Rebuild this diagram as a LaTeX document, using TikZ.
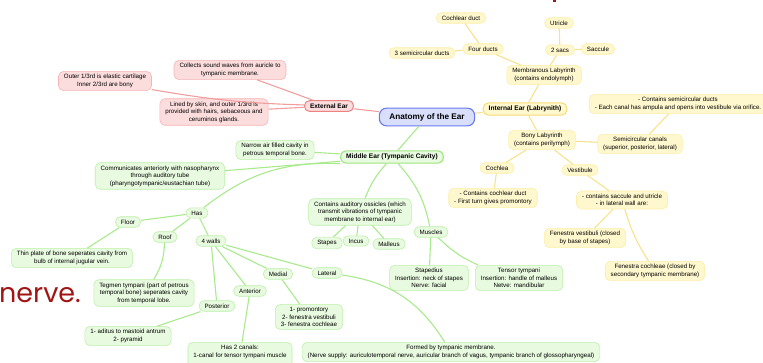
\documentclass[tikz,border=0pt]{standalone}
\usepackage{fontspec}
\setmainfont{Liberation Sans}
\newfontfamily\slidefont{Poppins}
\definecolor{extfill}{HTML}{FCDDDD}
\definecolor{extdraw}{HTML}{F5B5B5}
\definecolor{extmaindraw}{HTML}{EC8282}
\definecolor{extedge}{HTML}{F29E9E}
\definecolor{midfill}{HTML}{E8FADF}
\definecolor{middraw}{HTML}{BDF0AA}
\definecolor{midmaindraw}{HTML}{9EE67E}
\definecolor{midedge}{HTML}{A8EA8C}
\definecolor{intfill}{HTML}{FFF8CE}
\definecolor{intdraw}{HTML}{FBEEA6}
\definecolor{intmaindraw}{HTML}{F4DC74}
\definecolor{intedge}{HTML}{F8E38C}
\definecolor{hubfill}{HTML}{D9DEFA}
\definecolor{hubdraw}{HTML}{6B7BEE}
\definecolor{nervered}{HTML}{A01515}
\begin{document}
\begin{tikzpicture}[x=1pt,y=-1pt,
    every node/.style={font=\fontsize{6.2}{7.4}\selectfont,align=center},
    box/.style={rounded corners=5pt,inner xsep=5.5pt,inner ysep=3pt,line width=0.6pt},
    extbox/.style={box,draw=extdraw,fill=extfill},
    midbox/.style={box,draw=middraw,fill=midfill},
    intbox/.style={box,draw=intdraw,fill=intfill},
    extmain/.style={box,draw=extmaindraw,fill=extfill,line width=1pt,
        font=\fontsize{6.5}{7.5}\selectfont\bfseries},
    midmain/.style={box,draw=midmaindraw,fill=midfill,line width=1.1pt,
        font=\fontsize{6.6}{7.5}\selectfont\bfseries},
    intmain/.style={box,draw=intmaindraw,fill=intfill,line width=1pt,
        font=\fontsize{6.6}{7.5}\selectfont\bfseries},
    hub/.style={box,draw=hubdraw,fill=hubfill,line width=1.1pt,rounded corners=7pt,
        inner xsep=10pt,inner ysep=5pt,font=\fontsize{8.2}{9}\selectfont\bfseries},
    extline/.style={draw=extedge,line width=1.1pt},
    midline/.style={draw=midedge,line width=1.1pt},
    intline/.style={draw=intedge,line width=1.1pt}]

    \useasboundingbox (0,0) rectangle (763,362);

    % the texts

    \node[hub] (ear) at (427,117) {Anatomy of the Ear};

    \node[extmain] (ext) at (329,106) {External Ear};
    \node[extbox] (collects) at (230,70) {Collects sound waves from auricle to\\tympanic membrane.};
    \node[extbox] (outer) at (105,81) {Outer 1/3rd is elastic cartilage\\Inner 2/3rd are bony};
    \node[extbox] (lined) at (214,112) {Lined by skin, and outer 1/3rd is\\provided with hairs, sebaceous and\\ceruminos glands.};

    \node[intmain] (int) at (525,109) {Internal Ear (Labrynith)};
    \node[intbox] (memb) at (544,75) {Membranous Labyrinth\\(contains endolymph)};
    \node[intbox] (four) at (483,49) {Four ducts};
    \node[intbox] (semiducts) at (422,53) {3 semicircular ducts};
    \node[intbox] (cochduct) at (461,18) {Cochlear duct};
    \node[intbox] (sacs) at (560,50) {2 sacs};
    \node[intbox] (utricle) at (559,23) {Utricle};
    \node[intbox] (saccule) at (598,49) {Saccule};
    \node[intbox] (bony) at (542,140) {Bony Labyrinth\\(contains perilymph)};
    \node[intbox] (canals) at (640,144) {Semicircular canals\\(superior, posterior, lateral)};
    \node[intbox] (canalsnote) at (678,104) {- Contains semicircular ducts\\- Each canal has ampula and opens into vestibule via orifice.};
    \node[intbox] (cochlea) at (497,168) {Cochlea};
    \node[intbox] (vestibule) at (580,170) {Vestibule};
    \node[intbox] (cochnote) at (493,198) {- Contains cochlear duct\\- First turn gives promontory};
    \node[intbox] (vestnote) at (622,200) {- contains saccule and utricle\\- in lateral wall are:};
    \node[intbox] (fenvest) at (585,238) {Fenestra vestibuli (closed\\by base of stapes)};
    \node[intbox] (fencoch) at (655,271) {Fenestra cochleae (closed by\\secondary tympanic membrane)};

    \node[midmain] (mid) at (392,157) {Middle Ear (Tympanic Cavity)};
    \node[midbox] (narrow) at (275,150) {Narrow air filled cavity in\\petrous temporal bone.};
    \node[midbox] (comm) at (160,176) {Communicates anteriorly with nasopharynx\\through auditory tube\\(pharyngotympanic/eustachian tube)};
    \node[midbox] (has) at (197,213) {Has};
    \node[midbox] (floor) at (128,222) {Floor};
    \node[midbox] (roof) at (165,237) {Roof};
    \node[midbox] (walls) at (211,241) {4 walls};
    \node[midbox] (thin) at (72,258) {Thin plate of bone seperates cavity from\\bulb of internal jugular vein.};
    \node[midbox] (tegmen) at (144,293) {Tegmen tympani (part of petrous\\temporal bone) seperates cavity\\from temporal lobe.};
    \node[midbox] (medial) at (278,274) {Medial};
    \node[midbox] (lateral) at (327,273) {Lateral};
    \node[midbox] (anterior) at (250,291) {Anterior};
    \node[midbox] (posterior) at (217,306) {Posterior};
    \node[midbox] (medwall) at (309,317) {1- promontory\\2- fenestra vestibuli\\3- fenestra cochleae};
    \node[midbox] (postwall) at (128,336) {1- aditus to mastoid antrum\\2- pyramid};
    \node[midbox,anchor=north] (antwall) at (240,342) {Has 2 canals:\\1-canal for tensor tympani muscle\\\mbox{}};
    \node[midbox] (formed) at (451,352) {Formed by tympanic membrane.\\(Nerve supply: auriculotemporal nerve, auricular branch of vagus, tympanic branch of glossopharyngeal)};
    \node[midbox] (ossicles) at (360,212) {Contains auditory ossicles (which\\transmit vibrations of tympanic\\membrane to internal ear)};
    \node[midbox] (stapes) at (327,243) {Stapes};
    \node[midbox] (incus) at (356,241) {Incus};
    \node[midbox] (malleus) at (389,244) {Malleus};
    \node[midbox] (muscles) at (431,232) {Muscles};
    \node[midbox] (stapedius) at (429,278) {Stapedius\\Insertion: neck of stapes\\Nerve: facial};
    \node[midbox] (tensor) at (519,278) {Tensor tympani\\Insertion: handle of malleus\\Netve: mandibular};

    \node[anchor=base west,inner sep=0pt,text=nervered,
        font=\fontsize{27}{30}\selectfont\slidefont] (nerve) at (-1,302) {nerve.};
    \fill[nervered] (553,0) rectangle (556,2);

    % the links

    \draw[extline] (ear) to (ext);
    \draw[extline] (ext) to (collects);
    \draw[extline] (ext) to[bend left=4] (outer);
    \draw[extline] (ext) to (lined);

    \draw[intline] (ear) to (int);
    \draw[intline] (int) to (memb);
    \draw[intline] (memb) to (four);
    \draw[intline] (four) to (semiducts);
    \draw[intline] (four) to (cochduct);
    \draw[intline] (memb) to (sacs);
    \draw[intline] (sacs) to (utricle);
    \draw[intline] (sacs) to (saccule);
    \draw[intline] (int) to (bony);
    \draw[intline] (bony) to (canals);
    \draw[intline] (canals) to (canalsnote);
    \draw[intline] (bony) to (cochlea);
    \draw[intline] (bony) to (vestibule);
    \draw[intline] (cochlea) to (cochnote);
    \draw[intline] (vestibule) to (vestnote);
    \draw[intline] (vestnote) to (fenvest);
    \draw[intline] (vestnote) to[bend right=8] (fencoch);

    \draw[midline] (ear) to (mid);
    \draw[midline] (mid) to (narrow);
    \draw[midline] (mid) to (comm);
    \draw[midline] (mid.south west) to[bend right=20] (has);
    \draw[midline] (has) to (floor);
    \draw[midline] (has) to (roof);
    \draw[midline] (has) to (walls);
    \draw[midline] (floor) to (thin);
    \draw[midline] (roof) to[bend left=15] (tegmen);
    \draw[midline] (walls) to (posterior);
    \draw[midline] (walls) to (anterior);
    \draw[midline] (walls) to (medial);
    \draw[midline] (walls) to (lateral);
    \draw[midline] (posterior) to (postwall);
    \draw[midline] (anterior) to (antwall);
    \draw[midline] (medial) to (medwall);
    \draw[midline] (lateral) to[bend left=25] (formed);
    \draw[midline] (mid) to[bend right=10] (ossicles);
    \draw[midline] (mid) to[bend left=15] (muscles);
    \draw[midline] (ossicles) to (stapes);
    \draw[midline] (ossicles) to (incus);
    \draw[midline] (ossicles) to (malleus);
    \draw[midline] (muscles) to (stapedius);
    \draw[midline] (muscles) to[bend right=10] (tensor);
\end{tikzpicture}
\end{document}
